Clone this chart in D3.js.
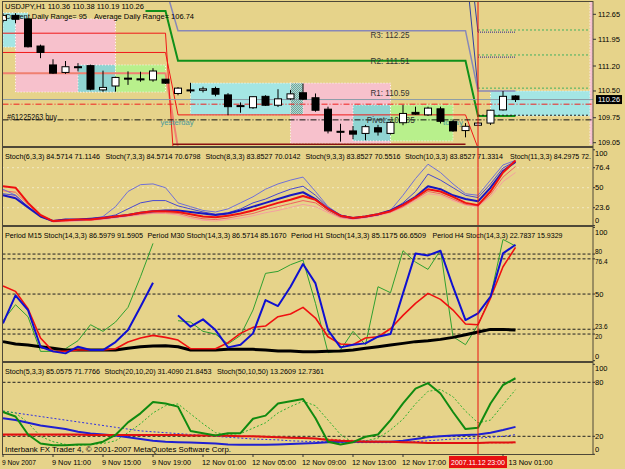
<!DOCTYPE html>
<html><head><meta charset="utf-8">
<script src="https://cdnjs.cloudflare.com/ajax/libs/d3/7.8.5/d3.min.js"></script>
<style>html,body{margin:0;padding:0;background:#E6D38A;overflow:hidden}svg{display:block}</style>
</head><body>
<svg id="chart" width="625" height="469"></svg>
<script>
// ---------------- DATA ----------------
const opens  = [112.48,112.62,112.52,111.76,111.23,111.02,111.18,111.21,110.53,110.64,110.86,110.84,110.81,110.83,110.43,110.53,110.52,110.57,110.39,110.09,110.03,110.35,110.10,110.28,110.45,110.31,109.99,109.37,109.38,109.31,109.47,109.31,109.61,109.90,109.83,110.00,109.64,109.39,109.54,109.60,109.97,110.36];
const highs  = [112.68,112.68,112.55,111.80,111.39,111.34,111.28,111.24,111.07,110.90,111.05,111.04,111.14,110.84,110.61,110.73,110.62,110.62,110.44,110.18,110.35,110.38,110.55,110.53,110.71,110.43,110.06,109.58,109.52,109.55,109.55,109.65,110.11,110.06,110.06,110.06,109.70,109.60,109.63,109.97,110.50,110.38];
const lows   = [112.42,112.40,111.72,111.42,110.98,110.98,111.05,110.52,110.48,110.48,110.67,110.76,110.76,110.70,110.38,110.44,110.46,110.35,109.82,109.89,110.00,110.08,110.05,110.25,110.25,109.92,109.31,109.08,109.15,109.12,109.25,109.28,109.54,109.83,109.80,109.59,109.36,109.20,109.52,109.55,109.95,110.19];
const closes = [112.62,112.51,111.74,111.58,111.00,111.18,111.18,110.55,110.60,110.88,110.86,110.84,111.06,110.72,110.58,110.53,110.56,110.41,110.06,110.09,110.34,110.10,110.28,110.42,110.27,109.96,109.38,109.37,109.29,109.50,109.35,109.62,109.87,109.85,110.02,109.65,109.38,109.51,109.60,109.96,110.35,110.26];

const timeLabels    = ["9 Nov 2007","9 Nov 11:00","9 Nov 15:00","9 Nov 19:00","12 Nov 01:00","12 Nov 05:00","12 Nov 09:00","12 Nov 13:00","12 Nov 17:00","13 Nov 01:00"];
const timeLabelBars = [0,4,8,12,16,20,24,28,32,40];
const cursorBar = 38;
const cursorLabel = "2007.11.12 23:00";

const priceTicks = [112.65,111.95,111.20,110.50,109.75,109.05];
const lastPrice = 110.26;
const orderPrice = 109.69;
const redLevel = 110.13;

// session boxes: [fromBar, toBar, high, low, session]
const sessionBoxes = [
  [0,2,112.69,111.73,"asia"],[1,2,112.45,111.73,"hatch"],
  [1,9,112.52,110.47,"europe"],[6,9,111.23,110.47,"overlap"],[9,13,111.23,110.47,"us"],
  [15,23,110.72,109.83,"asia"],[23,31,110.72,109.03,"europe"],[23,24,110.72,109.83,"hatch"],
  [28,31,110.11,109.10,"overlap"],[31,36,110.11,109.10,"us"],
  [39,47.2,110.50,109.80,"asia"],[46.95,47.2,113.2,109.0,"europe"]
];

// pivot-type level lines as [bar, price] vertices
const levelR3    = [[13,113.4],[14,112.19],[37,112.19],[38,110.50],[41,110.50]];
const levelR2    = [[11.4,112.74],[13,112.74],[14,111.35],[37,111.35],[38,109.80],[41,109.80]];
const levelRedA  = [[0,112.12],[13,112.12],[13.6,108.9]];
const levelRedB  = [[0,111.58],[13,111.58],[14,109.83],[37,109.83],[38,108.9]];
const levelSalmon= [[0,111.00],[13,111.00],[14,108.9]];
const levelDark  = [[13.6,109.01],[37,109.01]];
const levelNavyA = [[37.2,113.4],[38,110.55]];
const levelNavyB = [[37.6,113.4],[38,112.15]];
const navyDotted = [112.15,111.45];
const todayDashedGreen = [112.21,111.51,110.58];
const todayDashedBlack = [109.82];

// panel 2: multi stochastic
const p2Blue1 = [48,40,25,12,6,8,8,9,12,25,45,54,55,50,30,25,20,18,22,30,38,48,55,60,64,45,25,14,10,12,14,20,40,62,81,70,55,42,40,60,80,86];
const p2Blue2 = [42,40,25,12,6,8,8,9,11,14,22,30,33,33,26,22,18,15,17,22,30,35,42,48,52,40,24,14,10,12,15,20,30,45,68,60,50,40,37,55,76,85];
const p2Blue3 = [40,36,24,12,6,8,8,9,10,12,14,17,19,20,20,18,16,14,16,20,25,30,35,40,44,35,22,13,10,12,15,20,28,38,52,48,40,35,32,50,72,84];
const p2Red1  = [52,50,30,14,6,7,8,8,10,12,14,17,19,19,18,15,12,11,13,16,20,25,30,34,39,34,22,13,10,12,15,19,27,37,48,45,38,30,27,45,70,86];
const p2Red2  = [46,44,28,13,5,6,7,7,9,11,13,15,17,17,16,12,9,8,10,13,16,21,25,29,33,30,19,11,9,11,14,18,25,35,45,42,35,28,26,41,64,78];
const p2Red3  = [40,38,25,12,5,5,6,7,8,10,12,14,16,16,14,10,7,6,8,10,13,17,20,24,28,25,17,10,8,10,13,17,24,33,42,40,33,27,25,38,58,70];
const p2Levels = [100,76.4,50,23.6,0];
const p2Header = ["Stoch(6,3,3) 84.5714 71.1146","Stoch(7,3,3) 84.5714 70.6798","Stoch(8,3,3) 83.8527 70.0142","Stoch(9,3,3) 83.8527 70.5516","Stoch(10,3,3) 83.8527 71.3314","Stoch(11,3,3) 84.2975 72."];

// panel 3: multi timeframe stochastic
const p3M15 = [30,42,33,7,7,9,15,27,22,29,40,63,88,null,30,29,22,20,12.5,19,38,65.5,67,72,75.5,43,6,8,22,12,55.5,51,82.5,74,68.5,83,18,12,27,48,91,86];
const p3M30 = [28,49,38,10.5,7,5.5,10.5,8,8,14,23,40.5,58.5,null,34,25.5,31,23,10,12,20.5,45.5,41,55.5,72.5,58,23,10,12,13,18,20,50.5,80.5,79,82.5,55.5,30.5,35.5,48,80.5,87];
const p3H1  = [56,52,39,17,7,7,8,8,8,9,14,17,19,17.5,15.5,9,9,9,13.5,20.5,25,26,33,35,40,32,18,12.5,12,17,18,24,34,43,50.5,46,38,27.5,27,47,70.5,85];
const p3H4  = [14.3,12.5,11.8,10.5,9.3,8,8,8,8,8,9.3,10.5,11,11.3,10.5,8,8,8,8.5,8.5,8.5,8,7.3,7.3,6.8,6.8,7,7.3,8,9.3,10.5,11.8,13,14.3,15,16,17.5,19.5,21.5,23.5,23.5,23];
const p3Levels = [100,80,76.4,50,23.6,20,0];
const p3Header = ["Period M15 Stoch(14,3,3) 86.5979 91.5905","Period M30 Stoch(14,3,3) 86.5714 85.1670","Period H1 Stoch(14,3,3) 85.1175 66.6509","Period H4 Stoch(14,3,3) 22.7837 15.9329"];

// panel 4: three stochastics
const p4K5  = [47,42,22,12,10,10,11,11,14,21.5,35.5,45.5,58,56.5,53,26,23.5,21,23.5,23.5,39.5,43,56.5,59,61.5,40,14,11,13.5,19.5,22,38,56.5,73,79,67.5,47,28,29.5,56.5,77,84.5];
const p4D5  = [48,46,35,20,14,11,10,11,12,15,24,34,46,54,56,45,34,24,22,23,29,35,46,53,59,54,38,22,13,15,18,27,39,56,70,72,64,48,35,38,55,71.8];
const p4K20 = [40,38,35,32,30,28,25,23,22,21,19,17,15,14,13.5,13,12.5,12,11,10.5,10.5,10.5,11,11.5,12,12.5,13.5,14,14,14,14,14,15,17,19,20,21,21.5,22,24,27,30.5];
const p4D20 = [48,46,44,42,40,38,36,34,32,30,28,26,25,24,23,22,21,20,19,18,17,16.5,16,15,14.5,14,14,13.5,13,13,13,13,13.5,14,15,16,17,17.5,18,19,20,21.8];
const p4K50 = [22,22,22,22,22,22,22,21.5,21.5,21.5,21.5,21.5,21.5,21.5,21.5,21,21,21,20.5,20,20,19.5,19,18.5,18,17.5,16,15,14.5,14,14,14,13.5,13,12.5,12.5,12.5,12.5,12.5,13,13,13.3];
const p4D50 = [21,21,21,21,21,21,21,21,21,21,21,21,21,21,21,21,21,20.5,20.5,20,19.5,19,19,18.5,18,17.5,17,16,15.5,15,14.5,14,14,13.5,13,13,13,12.8,12.8,12.7,12.7,12.7];
const p4Levels = [100,80,20,0];
const p4Header = ["Stoch(5,3,3) 85.0575 71.7766","Stoch(20,10,20) 31.4090 21.8453","Stoch(50,10,50) 13.2609 12.7361"];

// ---------------- DRAWING ----------------
const W = 625, H = 469;
const BG = "#E6D38A";
const FONT = "'Liberation Sans', Arial, sans-serif";
const svg = d3.select("#chart");
svg.append("rect").attr("width", W).attr("height", H).attr("fill", BG);

const LEFT = 2.5, RIGHT = 593;
const panels = [
  {top: 2, bottom: 146},
  {top: 148, bottom: 225},
  {top: 227, bottom: 361},
  {top: 363, bottom: 454}
];

const x  = d3.scaleLinear().domain([0, 41]).range([3, 515.5]);
const yP = d3.scaleLinear().domain([109.05, 112.65]).range([142.7, 14.3]);
const y2 = d3.scaleLinear().domain([0, 100]).range([225.6, 149.8]);
const y3 = d3.scaleLinear().domain([0, 100]).range([360.7, 227.4]);
const y4 = d3.scaleLinear().domain([0, 100]).range([454.3, 364.3]);

const defs = svg.append("defs");
panels.forEach((p, k) => {
  defs.append("clipPath").attr("id", "clip" + k).append("rect")
    .attr("x", LEFT).attr("y", p.top).attr("width", RIGHT - LEFT).attr("height", p.bottom - p.top);
});
const pat = defs.append("pattern").attr("id", "hatch").attr("width", 2).attr("height", 2).attr("patternUnits", "userSpaceOnUse");
pat.append("rect").attr("width", 2).attr("height", 2).attr("fill", "#A4E0DA");
pat.append("rect").attr("width", 1).attr("height", 1).attr("fill", "#7E9E94");
pat.append("rect").attr("x", 1).attr("y", 1).attr("width", 1).attr("height", 1).attr("fill", "#7E9E94");

function label(g, str, x0, yc, opt = {}) {
  const t = g.append("text").attr("x", x0).attr("y", yc)
    .attr("dominant-baseline", "central")
    .attr("font-family", FONT).attr("font-size", opt.size || 8)
    .attr("fill", opt.color || "#000").text(str);
  if (opt.len) t.attr("textLength", opt.len).attr("lengthAdjust", "spacingAndGlyphs");
  if (opt.anchor) t.attr("text-anchor", opt.anchor);
  return t;
}

// ---------- main panel ----------
const g0 = svg.append("g").attr("clip-path", "url(#clip0)");
const boxFill = {asia: "#A4E6E4", europe: "#F7C1CC", overlap: "#90D4D2", us: "#B8F08C", hatch: "url(#hatch)"};
g0.selectAll("rect.box").data(sessionBoxes).join("rect").attr("class", "box")
  .attr("x", d => x(d[0])).attr("width", d => x(d[1]) - x(d[0]))
  .attr("y", d => yP(d[2])).attr("height", d => yP(d[3]) - yP(d[2]))
  .attr("fill", d => boxFill[d[4]])
  .attr("stroke", "#FFFFFF").attr("stroke-width", 1).attr("stroke-dasharray", "1,2").attr("stroke-opacity", 0.9);

// header texts (drawn under candles)
label(svg, "USDJPY,H1  110.36 110.38 110.19 110.26", 5, 6.3, {size: 8, len: 139});
label(svg, "Current Daily Range= 95", 5, 16, {size: 8, len: 82});
label(svg, "Average Daily Range= 106.74", 94, 16, {size: 8, len: 100});

const lineP = d3.line().x(d => x(d[0])).y(d => yP(d[1]));
function level(pts, color, w, dash) {
  g0.append("path").attr("d", lineP(pts)).attr("fill", "none").attr("stroke", color)
    .attr("stroke-width", w).attr("stroke-dasharray", dash || null);
}
level(levelSalmon, "#F08070", 2);
level(levelRedA, "#F01818", 1);
level(levelRedB, "#F01818", 1);
level(levelDark, "#8A1010", 1.5);
level(levelR3, "#8888B8", 1.5);
level(levelNavyA, "#3040A0", 1);
level(levelNavyB, "#3040A0", 1);
level(levelR2, "#10901A", 2);
navyDotted.forEach(p => level([[38, p], [41, p]], "#202090", 1, "1,1"));
todayDashedGreen.forEach(p => level([[38, p], [46.95, p]], "#40B060", 1, "2,2"));
todayDashedBlack.forEach(p => level([[38, p], [46.95, p]], "#202020", 1, "2,2"));

// full-width lines
function hline(price, color, dash, w) {
  g0.append("line").attr("x1", LEFT).attr("x2", RIGHT).attr("y1", yP(price)).attr("y2", yP(price))
    .attr("stroke", color).attr("stroke-width", w || 1).attr("stroke-dasharray", dash || null);
}
hline(lastPrice, "#8C9CA8");
hline(redLevel, "#F02020", "6,2,1,2");
hline(orderPrice, "#101010", "6,2,1,2");

// pivot labels
label(g0, "R3: 112.25", x(29.4), yP(112.08), {size: 8.5, len: 39, color: "#333"});
label(g0, "R2: 111.51", x(29.4), yP(111.34), {size: 8.5, len: 39, color: "#333"});
label(g0, "R1: 110.59", x(29.4), yP(110.44), {size: 8.5, len: 39, color: "#333"});
label(g0, "Pivot: 109.85", x(29.1), yP(109.69), {size: 8.5, len: 48, color: "#333"});
label(g0, "#61225263 buy", 7, yP(109.77), {size: 8.5, len: 50, color: "#111"});
label(g0, "yesterday", x(12.6), yP(109.63), {size: 7, len: 33, color: "#4A9A9A"});
label(g0, "today", x(35.2), yP(109.62), {size: 7, len: 20, color: "#4A9A9A"});

// candles
const idx = d3.range(opens.length);
const cg = g0.append("g");
cg.selectAll("line.wick").data(idx).join("line").attr("class", "wick")
  .attr("x1", i => x(i)).attr("x2", i => x(i))
  .attr("y1", i => yP(highs[i])).attr("y2", i => yP(lows[i]))
  .attr("stroke", "#000").attr("stroke-width", 1);
cg.selectAll("rect.body").data(idx).join("rect").attr("class", "body")
  .attr("x", i => x(i) - 3.5).attr("width", 7)
  .attr("y", i => yP(Math.max(opens[i], closes[i])))
  .attr("height", i => Math.max(1, Math.abs(yP(opens[i]) - yP(closes[i]))))
  .attr("fill", i => closes[i] > opens[i] ? "#FFFFFF" : "#000000")
  .attr("stroke", "#000").attr("stroke-width", 1);

// ---------- panel 2 ----------
const g1 = svg.append("g").attr("clip-path", "url(#clip1)");
p2Levels.filter(v => v > 0 && v < 100).forEach(v => {
  g1.append("line").attr("x1", LEFT).attr("x2", RIGHT).attr("y1", y2(v)).attr("y2", y2(v))
    .attr("stroke", "#FFFFFF").attr("stroke-dasharray", "1,4").attr("stroke-width", 1);
});
label(g1, p2Header[0], 5, 156.7, {size: 7.5, len: 95});
label(g1, p2Header[1], 105.5, 156.7, {size: 7.5, len: 95});
label(g1, p2Header[2], 205.5, 156.7, {size: 7.5, len: 95});
label(g1, p2Header[3], 305.5, 156.7, {size: 7.5, len: 95});
label(g1, p2Header[4], 405, 156.7, {size: 7.5, len: 98});
label(g1, p2Header[5], 510, 156.7, {size: 7.5, len: 81});
function series(g, ys, arr, color, w, dash) {
  const ln = d3.line().defined(d => d !== null).x((d, i) => x(i)).y(d => ys(d));
  g.append("path").attr("d", ln(arr)).attr("fill", "none").attr("stroke", color)
    .attr("stroke-width", w).attr("stroke-dasharray", dash || null).attr("stroke-linejoin", "round");
}
series(g1, y2, p2Red3, "#F4A0A0", 1);
series(g1, y2, p2Red2, "#F06060", 1);
series(g1, y2, p2Blue1, "#7070D8", 1);
series(g1, y2, p2Blue2, "#4848D0", 1);
series(g1, y2, p2Blue3, "#1818C0", 2);
series(g1, y2, p2Red1, "#F01010", 2);

// ---------- panel 3 ----------
const g2 = svg.append("g").attr("clip-path", "url(#clip2)");
p3Levels.filter(v => v > 0 && v < 100).forEach(v => {
  g2.append("line").attr("x1", LEFT).attr("x2", RIGHT).attr("y1", y3(v)).attr("y2", y3(v))
    .attr("stroke", "#202020").attr("stroke-dasharray", "3,2").attr("stroke-width", 1);
});
label(g2, p3Header[0], 5, 235, {size: 7.5, len: 138});
label(g2, p3Header[1], 147.5, 235, {size: 7.5, len: 139});
label(g2, p3Header[2], 291, 235, {size: 7.5, len: 135});
label(g2, p3Header[3], 432.5, 235, {size: 7.5, len: 130});
series(g2, y3, p3M15, "#30A030", 1);
series(g2, y3, p3H4, "#000000", 3);
series(g2, y3, p3H1, "#F01010", 1.6);
series(g2, y3, p3M30, "#1010D0", 2);

// ---------- panel 4 ----------
const g3 = svg.append("g").attr("clip-path", "url(#clip3)");
p4Levels.filter(v => v > 0 && v < 100).forEach(v => {
  g3.append("line").attr("x1", LEFT).attr("x2", RIGHT).attr("y1", y4(v)).attr("y2", y4(v))
    .attr("stroke", "#202020").attr("stroke-dasharray", "3,2").attr("stroke-width", 1);
});
label(g3, p4Header[0], 5, 371, {size: 7.5, len: 95});
label(g3, p4Header[1], 104.5, 371, {size: 7.5, len: 107});
label(g3, p4Header[2], 217, 371, {size: 7.5, len: 107});
series(g3, y4, p4D50, "#F04040", 1, "2,2");
series(g3, y4, p4D20, "#3030E0", 1, "2,2");
series(g3, y4, p4D5, "#30B030", 1, "2,2");
series(g3, y4, p4K20, "#2020D0", 2);
series(g3, y4, p4K50, "#E01010", 2);
series(g3, y4, p4K5, "#108A10", 2);
label(g3, "Interbank FX Trader 4, \u00A9 2001-2007 MetaQuotes Software Corp.", 5, 449.3, {size: 8, len: 226});

// ---------- cursor line ----------
svg.append("line").attr("x1", x(cursorBar)).attr("x2", x(cursorBar)).attr("y1", panels[0].top).attr("y2", panels[3].bottom)
  .attr("stroke", "#E81010").attr("stroke-width", 1);

// ---------- panel frames ----------
panels.forEach(p => {
  svg.append("rect").attr("x", LEFT).attr("y", p.top - 0.5).attr("width", RIGHT - LEFT).attr("height", p.bottom - p.top + 1)
    .attr("fill", "none").attr("stroke", "#4E4838").attr("stroke-width", 1);
});

// ---------- right axes ----------
const ax = svg.append("g");
priceTicks.forEach(v => {
  ax.append("line").attr("x1", RIGHT).attr("x2", RIGHT + 3).attr("y1", yP(v)).attr("y2", yP(v)).attr("stroke", "#333");
  label(ax, v.toFixed(2), 598, yP(v), {size: 7.5, len: 22});
});
ax.append("rect").attr("x", 596).attr("y", yP(lastPrice) - 4.5).attr("width", 26).attr("height", 9).attr("fill", "#000");
label(ax, lastPrice.toFixed(2), 598, yP(lastPrice), {size: 7.5, len: 22, color: "#FFFFFF"});

// close-together levels (80/76.4, 23.6/20) are nudged apart so the labels stay legible
const nudge = {80: -2.6, 76.4: 2.6, 23.6: -2.6, 20: 2.6};
function levelAxis(levels, ys, p, pairOffsets) {
  levels.forEach(v => {
    let yy = Math.max(p.top + 5, Math.min(p.bottom - 5, ys(v)));
    if (pairOffsets && nudge[v] !== undefined) yy += nudge[v];
    ax.append("line").attr("x1", RIGHT).attr("x2", RIGHT + 2).attr("y1", ys(v)).attr("y2", ys(v)).attr("stroke", "#333");
    label(ax, String(v), 595, yy, {size: pairOffsets && nudge[v] !== undefined ? 6.5 : 7.5});
  });
}
levelAxis(p2Levels, y2, panels[1], false);
levelAxis(p3Levels, y3, panels[2], true);
levelAxis(p4Levels, y4, panels[3], false);

// ---------- time axis ----------
const boxHalf = 29;
timeLabels.forEach((t, k) => {
  const xx = x(timeLabelBars[k]);
  ax.append("line").attr("x1", xx).attr("x2", xx).attr("y1", panels[3].bottom).attr("y2", panels[3].bottom + 3).attr("stroke", "#333");
  const len = t.startsWith("12") || t.startsWith("13") ? 44 : 39;
  // a label that would sit under the cursor's time box starts just after it
  const x0 = Math.max(xx - 1, (timeLabelBars[k] > cursorBar) ? x(cursorBar) + boxHalf + 1.5 : -Infinity);
  label(ax, t, x0, 462.3, {size: 8, len: t === "9 Nov 2007" ? 34 : len});
});
ax.append("rect").attr("x", x(cursorBar) - boxHalf).attr("y", 456).attr("width", boxHalf * 2).attr("height", 12).attr("fill", "#E81010");
label(ax, cursorLabel, x(cursorBar), 462.3, {size: 8, len: 54, color: "#FFFFFF", anchor: "middle"});
</script>
</body></html>
